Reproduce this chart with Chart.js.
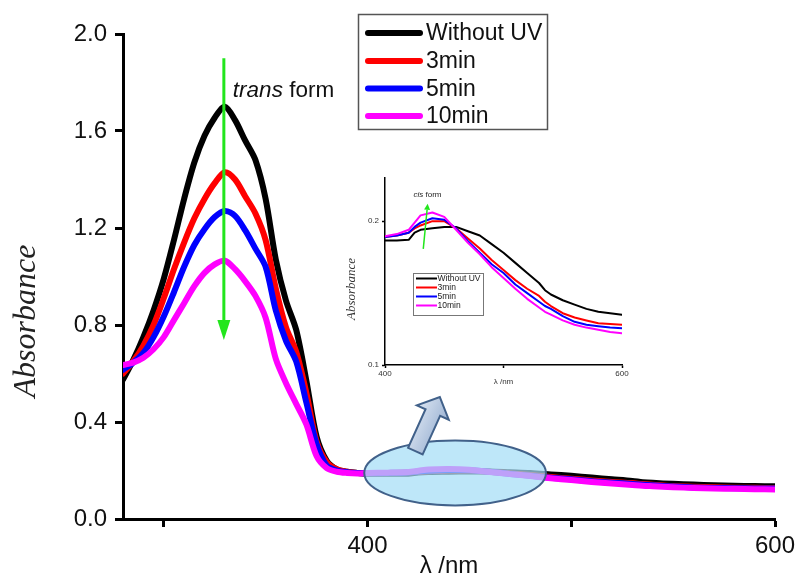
<!DOCTYPE html>
<html>
<head>
<meta charset="utf-8">
<script src="https://cdn.jsdelivr.net/npm/chart.js@4.4.1/dist/chart.umd.min.js"></script>
<style>
body{margin:0;background:#fff;}
#wrap{position:relative;width:797px;height:581px;}
#main{position:absolute;left:0;top:0;}
#inset{position:absolute;left:330px;top:160px;}
</style>
</head>
<body>
<div id="wrap">
<canvas id="main" width="797" height="581"></canvas>
<canvas id="inset" width="310" height="230"></canvas>
</div>
<script>
// series
var seriesNames = ["Without UV", "3min", "5min", "10min"];
var seriesColors = ["#000000", "#ff0000", "#0000ff", "#ff00ff"];

var wavelength = [280,285,290,295,300,305,310,315,320,325,330,335,340,345,350,355,360,365,370,375,380,385,390,395,
  400,410,420,425,430,440,450,460,470,480,490,500,510,520,530,535,540,550,560,570,580,590,600];

var withoutUV = [0.575,0.655,0.75,0.86,0.99,1.15,1.32,1.47,1.58,1.655,1.70,1.645,1.56,1.48,1.32,1.07,0.90,0.78,0.57,0.34,0.24,0.205,0.195,0.19,
  0.1865,0.1865,0.187,0.192,0.194,0.195,0.196,0.196,0.193,0.190,0.184,0.178,0.171,0.164,0.157,0.152,0.149,0.145,0.142,0.139,0.137,0.136,0.135];
var uv3min = [0.60,0.65,0.715,0.80,0.91,1.03,1.14,1.24,1.32,1.385,1.43,1.40,1.33,1.26,1.15,0.95,0.79,0.69,0.52,0.32,0.235,0.205,0.195,0.19,
  0.189,0.190,0.192,0.195,0.197,0.200,0.200,0.195,0.188,0.181,0.173,0.166,0.159,0.153,0.148,0.144,0.141,0.136,0.133,0.131,0.129,0.1285,0.128];
var uv5min = [0.615,0.645,0.685,0.75,0.835,0.935,1.04,1.13,1.195,1.245,1.27,1.25,1.19,1.115,1.04,0.86,0.735,0.65,0.48,0.31,0.22,0.20,0.193,0.19,
  0.189,0.190,0.192,0.196,0.199,0.202,0.201,0.195,0.186,0.178,0.170,0.164,0.156,0.150,0.144,0.141,0.139,0.134,0.130,0.128,0.127,0.126,0.1255];
var uv10min = [0.635,0.645,0.665,0.70,0.75,0.82,0.89,0.96,1.015,1.05,1.065,1.03,0.98,0.92,0.83,0.66,0.56,0.475,0.39,0.26,0.21,0.195,0.19,0.188,
  0.1895,0.191,0.194,0.199,0.204,0.206,0.203,0.194,0.185,0.177,0.168,0.1605,0.153,0.146,0.140,0.137,0.135,0.131,0.128,0.126,0.1245,0.123,0.122];

// ticks
var xTicks = [300, 400, 500, 600];
var xTickLabels = [400, 600];
var yTicks = [0, 0.4, 0.8, 1.2, 1.6, 2.0];
var insetXTicks = [400, 500, 600];
var insetXTickLabels = [400, 600];
var insetYTicks = [0.1, 0.2];

var sans = "'Liberation Sans', Arial, sans-serif";
var serif = "'Liberation Serif', 'Times New Roman', serif";

var allSeries = [withoutUV, uv3min, uv5min, uv10min];

function points(ys, fromX){
  var out = [];
  for (var i = 0; i < wavelength.length; i++){
    if (wavelength[i] >= fromX) out.push({x: wavelength[i], y: ys[i]});
  }
  return out;
}

function makeSets(fromX, width, tension){
  return allSeries.map(function(ys, i){
    return {
      label: seriesNames[i],
      data: points(ys, fromX),
      borderColor: seriesColors[i],
      backgroundColor: seriesColors[i],
      borderWidth: width,
      pointRadius: 0,
      tension: tension,
      borderJoinStyle: 'round',
      borderCapStyle: 'round',
      order: allSeries.length - 1 - i
    };
  });
}

function greenArrow(ctx, x1, y1, x2, y2, w, head, headW){
  var dx = x2 - x1, dy = y2 - y1, len = Math.sqrt(dx*dx + dy*dy);
  var ux = dx/len, uy = dy/len, nx = -uy, ny = ux;
  var bx = x2 - ux*head, by = y2 - uy*head;
  ctx.strokeStyle = '#22e61c';
  ctx.fillStyle = '#22e61c';
  ctx.lineWidth = w;
  ctx.beginPath(); ctx.moveTo(x1, y1); ctx.lineTo(bx, by); ctx.stroke();
  ctx.beginPath();
  ctx.moveTo(x2, y2);
  ctx.lineTo(bx + nx*headW, by + ny*headW);
  ctx.lineTo(bx - nx*headW, by - ny*headW);
  ctx.closePath(); ctx.fill();
}

// annotation anchors (data coordinates)
var ellipseCenter = [443, 0.19];
var ellipseHalf = [44.6, 0.134];
var blockArrowFrom = [423.5, 0.28];
var blockArrowTo = [435.5, 0.503];
var transArrow = [329.5, 1.90, 0.738];

var mainDecor = {
  id: 'mainDecor',
  afterDatasetsDraw: function(chart){
    var ctx = chart.ctx, xs = chart.scales.x, ys = chart.scales.y;
    ctx.save();

    // highlight ellipse
    var cx = xs.getPixelForValue(ellipseCenter[0]), cy = ys.getPixelForValue(ellipseCenter[1]);
    var rx = xs.getPixelForValue(ellipseCenter[0] + ellipseHalf[0]) - cx;
    var ry = cy - ys.getPixelForValue(ellipseCenter[1] + ellipseHalf[1]);
    ctx.beginPath();
    ctx.ellipse(cx, cy, rx, ry, 0, 0, Math.PI*2);
    ctx.fillStyle = 'rgba(165,222,246,0.72)';
    ctx.fill();
    ctx.lineWidth = 2;
    ctx.strokeStyle = '#41618a';
    ctx.stroke();

    // block arrow towards inset
    var x1 = xs.getPixelForValue(blockArrowFrom[0]), y1 = ys.getPixelForValue(blockArrowFrom[1]);
    var x2 = xs.getPixelForValue(blockArrowTo[0]), y2 = ys.getPixelForValue(blockArrowTo[1]);
    var dx = x2 - x1, dy = y2 - y1, len = Math.sqrt(dx*dx + dy*dy);
    var ux = dx/len, uy = dy/len, nx = -uy, ny = ux;
    var hb = [x2 - ux*17, y2 - uy*17];
    var sw = 8, hw = 17.5;
    ctx.beginPath();
    ctx.moveTo(x1 + nx*sw, y1 + ny*sw);
    ctx.lineTo(hb[0] + nx*sw, hb[1] + ny*sw);
    ctx.lineTo(hb[0] + nx*hw, hb[1] + ny*hw);
    ctx.lineTo(x2, y2);
    ctx.lineTo(hb[0] - nx*hw, hb[1] - ny*hw);
    ctx.lineTo(hb[0] - nx*sw, hb[1] - ny*sw);
    ctx.lineTo(x1 - nx*sw, y1 - ny*sw);
    ctx.closePath();
    var g = ctx.createLinearGradient(x1 - nx*hw, y1 - ny*hw, x1 + nx*hw, y1 + ny*hw);
    g.addColorStop(0, '#dbe5f2');
    g.addColorStop(1, '#9cb3d3');
    ctx.fillStyle = g;
    ctx.fill();
    ctx.lineWidth = 2;
    ctx.strokeStyle = '#41618a';
    ctx.stroke();

    // trans form arrow
    var ax = xs.getPixelForValue(transArrow[0]);
    greenArrow(ctx, ax, ys.getPixelForValue(transArrow[1]), ax, ys.getPixelForValue(transArrow[2]), 3, 20, 6.5);
    ctx.fillStyle = '#111';
    ctx.textBaseline = 'alphabetic';
    ctx.font = 'italic 22.5px ' + sans;
    ctx.fillText('trans', ax + 9, 97);
    var tw = ctx.measureText('trans ').width;
    ctx.font = '22.5px ' + sans;
    ctx.fillText('form', ax + 9 + tw, 97);

    // legend
    ctx.lineWidth = 1.5;
    ctx.strokeStyle = '#555';
    ctx.strokeRect(358.5, 14.5, 189, 115);
    var rows = [33, 61, 88.5, 116];
    ctx.lineCap = 'round';
    ctx.font = '23px ' + sans;
    ctx.textBaseline = 'middle';
    for (var i = 0; i < seriesNames.length; i++){
      ctx.strokeStyle = seriesColors[i];
      ctx.lineWidth = 6;
      ctx.beginPath(); ctx.moveTo(368, rows[i]); ctx.lineTo(420, rows[i]); ctx.stroke();
      ctx.fillStyle = '#111';
      ctx.fillText(seriesNames[i], 426, rows[i] + 1);
    }

    // y title
    ctx.translate(27, 321);
    ctx.rotate(-Math.PI/2);
    ctx.font = 'italic 32px ' + serif;
    ctx.fillStyle = '#222';
    ctx.textAlign = 'center';
    ctx.fillText('Absorbance', 0, 0);
    ctx.restore();
  }
};

new Chart(document.getElementById('main'), {
  type: 'line',
  data: {datasets: makeSets(0, 6, 0.3)},
  options: {
    responsive: false,
    animation: false,
    layout: {padding: {top: 34, right: 22, left: 0, bottom: 0}},
    plugins: {legend: {display: false}, tooltip: {enabled: false}},
    scales: {
      x: {
        type: 'linear', min: 280, max: 600,
        afterBuildTicks: function(s){ s.ticks = xTicks.map(function(v){ return {value: v}; }); },
        afterFit: function(s){ s.height = 62; s.paddingLeft = 0; s.paddingRight = 0; },
        border: {display: true, width: 3, color: '#000'},
        grid: {drawOnChartArea: false, drawTicks: true, tickLength: 8, tickWidth: 3, tickColor: '#000'},
        ticks: {
          autoSkip: false, maxRotation: 0, padding: 5, color: '#111',
          font: {family: sans, size: 24},
          callback: function(v){ return xTickLabels.indexOf(v) >= 0 ? String(v) : ''; }
        },
        title: {display: true, text: 'λ /nm', color: '#111', font: {family: sans, size: 24}, padding: {top: 0, bottom: 0}}
      },
      y: {
        min: 0, max: 2.0,
        afterBuildTicks: function(s){ s.ticks = yTicks.map(function(v){ return {value: v}; }); },
        afterFit: function(s){ s.width = 123; },
        border: {display: true, width: 3, color: '#000'},
        grid: {drawOnChartArea: false, drawTicks: true, tickLength: 8, tickWidth: 3, tickColor: '#000'},
        ticks: {
          autoSkip: false, padding: 8, color: '#111',
          font: {family: sans, size: 24},
          callback: function(v){ return v.toFixed(1); }
        }
      }
    }
  },
  plugins: [mainDecor]
});

// inset
var cisArrow = [432.3, 0.1807, 436, 0.2121];

var insetDecor = {
  id: 'insetDecor',
  afterDatasetsDraw: function(chart){
    var ctx = chart.ctx, xs = chart.scales.x, ys = chart.scales.y;
    ctx.save();
    greenArrow(ctx, xs.getPixelForValue(cisArrow[0]), ys.getPixelForValue(cisArrow[1]),
      xs.getPixelForValue(cisArrow[2]), ys.getPixelForValue(cisArrow[3]), 1.5, 6, 3);
    ctx.fillStyle = '#222';
    ctx.textBaseline = 'middle';
    ctx.font = 'italic 8px ' + sans;
    ctx.fillText('cis', 83.5, 35);
    var tw = ctx.measureText('cis ').width;
    ctx.font = '8px ' + sans;
    ctx.fillText('form', 83.5 + tw, 35);

    // legend
    ctx.lineWidth = 1;
    ctx.strokeStyle = '#777';
    ctx.strokeRect(83.5, 113.5, 70, 42);
    var rows = [118.5, 127.5, 136.5, 145.5];
    ctx.font = '8.5px ' + sans;
    for (var i = 0; i < seriesNames.length; i++){
      ctx.strokeStyle = seriesColors[i];
      ctx.lineWidth = 2;
      ctx.beginPath(); ctx.moveTo(86, rows[i]); ctx.lineTo(107, rows[i]); ctx.stroke();
      ctx.fillStyle = '#222';
      ctx.fillText(seriesNames[i], 107.5, rows[i] + 0.5);
    }

    ctx.translate(21.5, 129);
    ctx.rotate(-Math.PI/2);
    ctx.font = 'italic 13px ' + serif;
    ctx.fillStyle = '#333';
    ctx.textAlign = 'center';
    ctx.fillText('Absorbance', 0, 0);
    ctx.restore();
  }
};

new Chart(document.getElementById('inset'), {
  type: 'line',
  data: {datasets: makeSets(400, 2, 0)},
  options: {
    responsive: false,
    animation: false,
    layout: {padding: {top: 18, right: 18, left: 0, bottom: 0}},
    plugins: {legend: {display: false}, tooltip: {enabled: false}},
    scales: {
      x: {
        type: 'linear', min: 400, max: 600,
        afterBuildTicks: function(s){ s.ticks = insetXTicks.map(function(v){ return {value: v}; }); },
        afterFit: function(s){ s.height = 25; s.paddingLeft = 0; s.paddingRight = 0; },
        border: {display: true, width: 1.5, color: '#000'},
        grid: {drawOnChartArea: false, drawTicks: true, tickLength: 3, tickWidth: 1.5, tickColor: '#000'},
        ticks: {
          autoSkip: false, maxRotation: 0, padding: 1, color: '#333',
          font: {family: sans, size: 8},
          callback: function(v){ return insetXTickLabels.indexOf(v) >= 0 ? String(v) : ''; }
        },
        title: {display: true, text: 'λ /nm', color: '#333', font: {family: sans, size: 8}, padding: {top: 0, bottom: 3.5}}
      },
      y: {
        min: 0.1, max: 0.23,
        afterBuildTicks: function(s){ s.ticks = insetYTicks.map(function(v){ return {value: v}; }); },
        afterFit: function(s){ s.width = 55; },
        border: {display: true, width: 1.5, color: '#000'},
        grid: {drawOnChartArea: false, drawTicks: true, tickLength: 3, tickWidth: 1.5, tickColor: '#000'},
        ticks: {
          autoSkip: false, padding: 3, color: '#333',
          font: {family: sans, size: 8},
          callback: function(v){ return v.toFixed(1); }
        }
      }
    }
  },
  plugins: [insetDecor]
});
</script>
</body>
</html>
